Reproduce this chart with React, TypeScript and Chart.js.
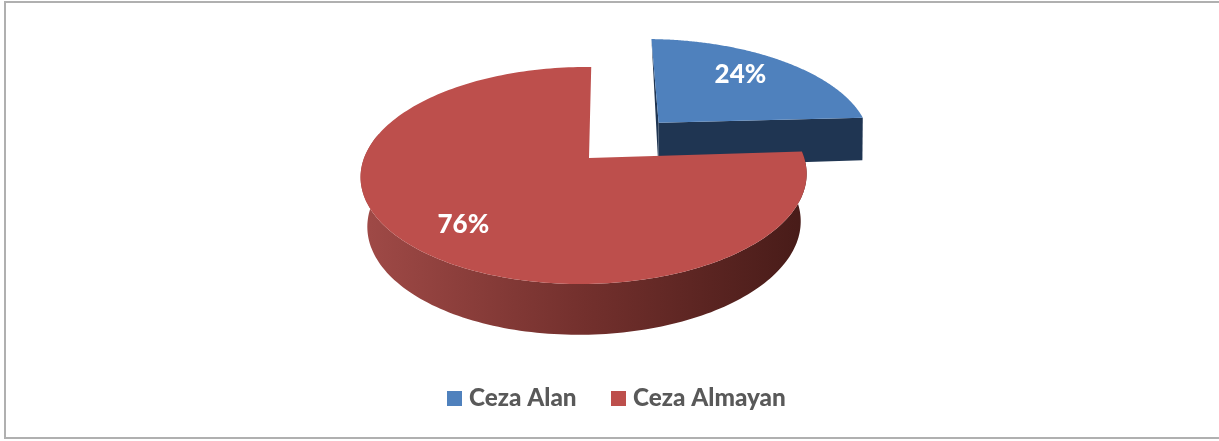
import React, { useEffect, useRef } from "react";
import { Chart, registerables } from "chart.js";

Chart.register(...registerables);

const categories = ["Ceza Alan", "Ceza Almayan"];
const shares = [24, 76];
const faceColors = ["#4f81bd", "#bd4f4c"];
const LABEL_FONT = '900 26px Lato, "Open Sans", sans-serif';
const LEGEND_FONT = '900 24.3px Lato, "Open Sans", sans-serif';

// Projection of the pie plane to the screen (perspective tilt).
const view = {
  cx: 589, cy: 158, a: 220, b: 105.7, k: 0.161, m: -0.022, s: -2.6,
  depth: 55, n: 0.022, q: 0.3,
};
const explode = [0.486, 0];
const radiusScale = [1.03, 1];
const wallDepth = [0.85, 1];
const labelOffset = [
  [-6, -4],
  [6, 0],
];
const labelRadius = [0.71, 0.775];

function project(X: number, Y: number, Z: number) {
  const w = 1 - view.k * Y * (1 - view.q * Z) - view.m * X + view.n * Z;
  return {
    x: view.cx + (view.a * X + view.s * Y) / w,
    y: view.cy + (view.b * Y + view.depth * Z) / w,
  };
}

const pie3d = {
  id: "pie3d",
  beforeDraw(chart: any) {
    const { ctx, width, height } = chart;
    ctx.save();
    ctx.fillStyle = "#ffffff";
    ctx.fillRect(0, 0, width, height);
    ctx.fillStyle = "#b0b0b0";
    ctx.fillRect(4, 1, width - 4, 2);
    ctx.fillRect(4, 1, 2, 438);
    ctx.fillRect(4, 437, width - 4, 2);
    ctx.restore();
  },
  beforeDatasetDraw(chart: any) {
    const { ctx } = chart;
    const arcs = chart.getDatasetMeta(0).data;
    ctx.save();
    const pts = (arc: any, i: number, Z: number) => {
      const mid = (arc.startAngle + arc.endAngle) / 2;
      const ox = Math.cos(mid) * explode[i];
      const oy = Math.sin(mid) * explode[i];
      const out: { x: number; y: number }[] = [];
      const steps = 200;
      for (let t = 0; t <= steps; t++) {
        const ang = arc.startAngle + ((arc.endAngle - arc.startAngle) * t) / steps;
        out.push(
          project(
            ox + Math.cos(ang) * radiusScale[i],
            oy + Math.sin(ang) * radiusScale[i],
            Z * wallDepth[i]
          )
        );
      }
      return { out, apex: project(ox, oy, Z * wallDepth[i]) };
    };
    const poly = (list: { x: number; y: number }[], fill: any) => {
      ctx.beginPath();
      list.forEach((p, j) => (j ? ctx.lineTo(p.x, p.y) : ctx.moveTo(p.x, p.y)));
      ctx.closePath();
      ctx.fillStyle = fill;
      ctx.fill();
    };
    // blue slice
    {
      const top = pts(arcs[0], 0, 0);
      const bot = pts(arcs[0], 0, 1);
      const n = top.out.length - 1;
      poly([top.apex, top.out[0], bot.out[0], bot.apex], "#1f3552");
      poly([top.apex, top.out[n], bot.out[n], bot.apex], "#1f3552");
      poly([...top.out, top.apex], faceColors[0]);
    }
    // red slice: only the front part of the wall can be seen
    {
      const top = pts(arcs[1], 1, 0);
      const bot = pts(arcs[1], 1, 1);
      const cut = Math.round(top.out.length * 0.72);
      const g = ctx.createLinearGradient(361, 0, 807, 0);
      g.addColorStop(0, "#a04a47");
      g.addColorStop(0.5, "#73302d");
      g.addColorStop(1, "#471b18");
      poly([...top.out.slice(0, cut), ...bot.out.slice(0, cut).reverse()], g);
      poly([...top.out, top.apex], faceColors[1]);
    }
    // value labels
    ctx.fillStyle = "#ffffff";
    ctx.font = LABEL_FONT;
    ctx.textAlign = "center";
    ctx.textBaseline = "middle";
    shares.forEach((v, i) => {
      const arc = arcs[i];
      const mid = (arc.startAngle + arc.endAngle) / 2;
      const r = explode[i] + labelRadius[i];
      const p = project(Math.cos(mid) * r, Math.sin(mid) * r, 0);
      ctx.fillText(`${v}%`, p.x + labelOffset[i][0], p.y + labelOffset[i][1]);
    });
    // legend
    const boxes = [447, 611];
    ctx.font = LEGEND_FONT;
    ctx.textAlign = "left";
    categories.forEach((c, i) => {
      ctx.fillStyle = faceColors[i];
      ctx.fillRect(boxes[i], 391, 15, 15);
      ctx.fillStyle = "#595959";
      ctx.fillText(c, boxes[i] + 22, 398);
    });
    ctx.restore();
    return false;
  },
};

export default function App() {
  const ref = useRef<HTMLCanvasElement>(null);
  useEffect(() => {
    document.body.style.margin = "0";
    const chart = new Chart(ref.current!, {
      type: "pie",
      data: {
        labels: categories,
        datasets: [{ data: shares, backgroundColor: faceColors, borderWidth: 0 }],
      },
      options: {
        animation: false,
        responsive: false,
        plugins: { legend: { display: false }, tooltip: { enabled: false } },
      },
      plugins: [pie3d],
    });
    return () => chart.destroy();
  }, []);
  return (
    <canvas ref={ref} width={1219} height={441} style={{ display: "block" }} />
  );
}
